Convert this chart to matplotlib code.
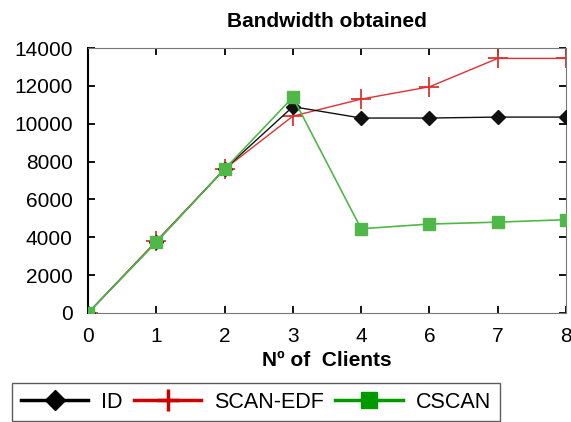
import matplotlib.pyplot as plt
from matplotlib.lines import Line2D

plt.rcParams['font.family'] = ['Liberation Sans', 'DejaVu Sans']

# datos
clients = ['0', '1', '2', '3', '4', '6', '7', '8']
id_bw = [0, 3750, 7600, 10900, 10300, 10300, 10350, 10350]
scan_edf_bw = [0, 3800, 7600, 10400, 11300, 11950, 13450, 13450]
cscan_bw = [0, 3750, 7600, 11400, 4450, 4700, 4800, 4930]

fig = plt.figure(figsize=(5.71, 4.22), dpi=100)
ax = fig.add_axes([88/571, 1 - 313/422, (566-88)/571, (313-48)/422])

x = list(range(len(clients)))
ax.plot(x, id_bw, color='#111111', lw=1, marker='D', ms=7, zorder=3)
ax.plot(x, scan_edf_bw, color='#e03030', lw=1, marker='+', ms=14, mew=1.3, zorder=2)
ax.plot(x, cscan_bw, color='#50b848', lw=1.2, marker='s', ms=8.5, zorder=4)

ax.set_xlim(0, len(clients) - 1)
ax.set_ylim(0, 14000)
ax.set_xticks(x)
ax.set_xticklabels(clients)
ax.set_yticks(range(0, 14001, 2000))
ax.tick_params(direction='in', top=True, right=True, labelsize=15, length=5, width=1.3)
ax.tick_params(axis='y', pad=11)
ax.tick_params(axis='x', pad=10)
for s in ax.spines.values():
    s.set_color('#777777')
ax.spines['left'].set_color('black')
ax.spines['left'].set_linewidth(1.5)

ax.set_title('Bandwidth obtained', fontsize=15, fontweight='bold', pad=15)
ax.set_xlabel('Nº of  Clients', fontsize=15, fontweight='bold', labelpad=4)

# leyenda abajo con lineas mas gruesas
handles = [
    Line2D([], [], color='black', lw=2.5, marker='D', ms=10),
    Line2D([], [], color='#cc0000', lw=2.5, marker='+', ms=16, mew=2.5),
    Line2D([], [], color='#009900', lw=2.5, marker='s', ms=11),
]
leg = fig.legend(handles, ['ID', 'SCAN-EDF', 'CSCAN'], ncol=3, loc='upper left',
                 bbox_to_anchor=(12/571, 1 - 383/422), fontsize=15.5, frameon=True,
                 fancybox=False, edgecolor='#333333', handlelength=3.15,
                 columnspacing=0.5, handletextpad=0.6, borderpad=0.4,
                 borderaxespad=0)
leg.get_frame().set_linewidth(1)

fig.savefig('out.png', dpi=100)
